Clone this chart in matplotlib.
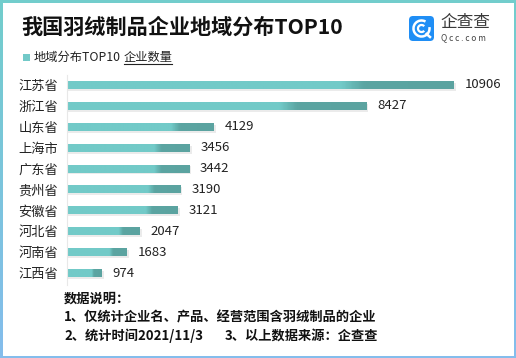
import matplotlib
matplotlib.use('Agg')
import matplotlib.pyplot as plt
import numpy as np
from matplotlib.colors import LinearSegmentedColormap
from matplotlib.patches import Rectangle, FancyBboxPatch, Arc

plt.rcParams['font.family'] = ['Noto Sans CJK SC', 'DejaVu Sans']

# data
provinces = ['江苏省', '浙江省', '山东省', '上海市', '广东省',
             '贵州省', '安徽省', '河北省', '河南省', '江西省']
counts = [10906, 8427, 4129, 3456, 3442, 3190, 3121, 2047, 1683, 974]

W, H = 516, 358
fig = plt.figure(figsize=(W / 100, H / 100), dpi=100)

# background layer in pixel coords: gradient frame, logo, texts
bg = fig.add_axes([0, 0, 1, 1])
bg.set_xlim(0, W)
bg.set_ylim(H, 0)
bg.axis('off')
frame = LinearSegmentedColormap.from_list('frame', ['#72cdcc', '#84bdec'])
bg.imshow(np.linspace(0, 1, 100).reshape(-1, 1), cmap=frame, aspect='auto',
          extent=(0, W, H, 0), zorder=0)
bg.add_patch(Rectangle((2.5, 2.5), W - 5, H - 5, facecolor='white',
                       edgecolor='none', zorder=1))

# title + legend
bg.text(21, 27, '我国羽绒制品企业地域分布TOP10', fontsize=15.2, fontweight='bold',
        color='#111111', va='center', ha='left', zorder=3)
bg.add_patch(Rectangle((23, 54), 7, 7, facecolor='#72c9c8', zorder=3))
bg.text(34, 57.5, '地域分布TOP10', fontsize=8.8, color='#222222',
        va='center', ha='left', zorder=3)
bg.text(124, 57.5, '企业数量', fontsize=8.8, color='#222222',
        va='center', ha='left', zorder=3)
bg.plot([124, 172], [64, 64], color='#222222', lw=0.8, zorder=3)

# logo
bg.add_patch(FancyBboxPatch((409, 16), 25, 25, boxstyle='round,pad=0,rounding_size=4',
                            facecolor='#1f8ef5', edgecolor='none', zorder=3))
bg.add_patch(Arc((421.5, 28.5), 16, 16, theta1=-10, theta2=300, color='white', lw=1.8, zorder=4))
bg.add_patch(Arc((421.5, 28.5), 7, 7, theta1=40, theta2=320, color='white', lw=1.6, zorder=4))
bg.plot([426.5, 430], [34, 37], color='white', lw=1.8, zorder=4)
bg.text(440, 23, '企查查', fontsize=12, color='#3a3a3a', va='center', ha='left', zorder=3)
bg.text(441, 38, 'Q c c . c o m', fontsize=6, color='#444444', va='center', ha='left', zorder=3)

# notes
note_kw = dict(fontsize=9.5, fontweight='bold', color='#111111', va='center', zorder=3)
bg.text(64, 299, '数据说明：', **note_kw)
bg.text(64, 317, '1、仅统计企业名、产品、经营范围含羽绒制品的企业', **note_kw)
bg.text(64, 336, '2、统计时间2021/11/3', **note_kw)
bg.text(225, 336, '3、以上数据来源：企查查', **note_kw)

# bar chart
left, top, bottom, aw = 67, 75, 285, 440
ax = fig.add_axes([left / W, 1 - bottom / H, aw / W, (bottom - top) / H])
ax.patch.set_alpha(0)
xmax = 10906 * aw / 387
for s in ['top', 'right', 'bottom']:
    ax.spines[s].set_visible(False)
ax.spines['left'].set_color('#e8e8e8')
ax.set_xticks([])
ax.set_yticks(range(len(provinces)))
ax.set_yticklabels(provinces, fontsize=9.5, color='#222222')
ax.tick_params(axis='y', length=0, pad=6.5)

barcmap = LinearSegmentedColormap.from_list(
    'bar', [(0, '#72cac8'), (0.71, '#72cac8'), (0.77, '#5ba5a2'), (1, '#5ba3a0')])
grad = np.linspace(0, 1, 200).reshape(1, -1)
h = 0.38
px = xmax / aw
for i, v in enumerate(counts):
    ax.barh(i + 0.09, v + 2 * px, height=h, color='#ebebeb', zorder=1)
    ax.imshow(grad, cmap=barcmap, aspect='auto', extent=(0, v, i + h / 2, i - h / 2),
              zorder=2, interpolation='bilinear')
    ax.text(v + 11 * px, i, str(v), fontsize=9.5, color='#222222', va='center', ha='left')
ax.set_xlim(0, xmax)
ax.set_ylim(9.57, -0.478)

fig.savefig('out.png', dpi=100)
